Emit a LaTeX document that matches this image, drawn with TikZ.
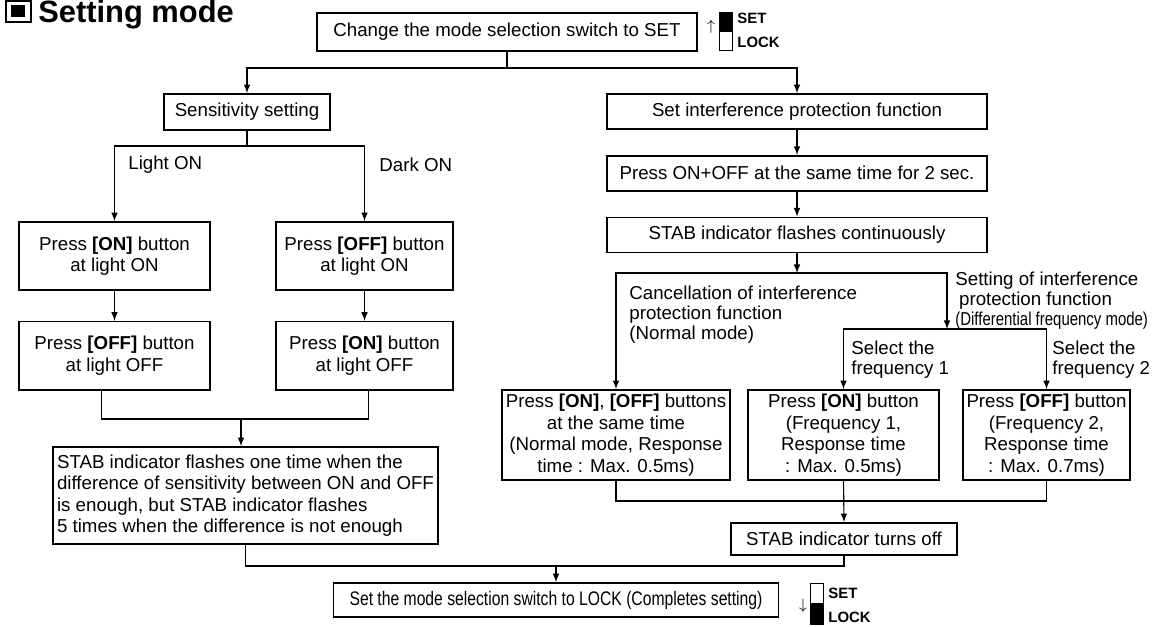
\documentclass[tikz,border=0pt]{standalone}
\usepackage{fontspec}
\setmainfont{Liberation Sans}
\newfontfamily\narrowsf[FakeStretch=0.8]{Liberation Sans}
\usetikzlibrary{arrows, positioning, calc}

\tikzset{
	box/.style={draw, line width=0.9pt, align=center, inner sep=0pt, font=\fontsize{10}{11.5}\selectfont},
	conn/.style={line width=0.6pt},
	arr/.style={conn, -latex},
	lbl/.style={inner sep=0pt, align=left, font=\fontsize{10}{10.5}\selectfont},
	swlbl/.style={inner sep=0pt, anchor=west, font=\fontsize{8}{8}\selectfont\bfseries},
}

\begin{document}
\begin{tikzpicture}[x=0.5348pt, y=-0.5348pt]
	\useasboundingbox (0,0) rectangle (1166,626);

	% title
	\draw[line width=0.6pt] (6,1) rectangle (31,22);
	\fill (11,5) rectangle (25,17);
	\node[anchor=base west, inner sep=0pt, font=\fontsize{16.5}{18}\selectfont\bfseries] (title) at (38,22) {Setting mode};

	% top box and switch
	\node[box, minimum width=203.2pt, minimum height=20.3pt] (top) at (507,32) {Change the mode selection switch to SET};
	\node[inner sep=0pt, font=\fontsize{8}{8}\selectfont] (up) at (711,27) {$\uparrow$};
	\filldraw[line width=0.5pt] (719,12) rectangle (732,31);
	\draw[line width=0.5pt] (719,31) rectangle (732,50);
	\node[swlbl] (set1) at (737,18) {SET};
	\node[swlbl] (lock1) at (737,42) {LOCK};
	\coordinate (j0) at (507,68);

	% sensitivity branch
	\node[box, minimum width=88.8pt, minimum height=19.3pt] (sens) at (247,112) {Sensitivity setting};
	\coordinate (j1) at (247,146);
	\node[inner sep=0pt, anchor=west] (lighton) at (128,165) {Light ON};
	\node[inner sep=0pt, anchor=west] (darkon) at (379,165) {Dark ON};
	\node[box, minimum width=102.1pt, minimum height=36.4pt] (lon1) at (114.5,256) {Press \textbf{[ON]} button\\at light ON};
	\node[box, minimum width=102.1pt, minimum height=36.4pt, below=16pt of lon1] (lon2) {Press \textbf{[OFF]} button\\at light OFF};
	\node[box, minimum width=94.7pt, minimum height=36.4pt] (don1) at (364.5,256) {Press \textbf{[OFF]} button\\at light ON};
	\node[box, minimum width=94.7pt, minimum height=36.4pt, below=16pt of don1] (don2) {Press \textbf{[ON]} button\\at light OFF};
	\coordinate (j2) at (241,419);
	\node[box, align=left, minimum width=205.9pt, minimum height=51.9pt] (stab1) at (245.5,495.5) {STAB indicator flashes one time when the\\difference of sensitivity between ON and OFF\\is enough, but STAB indicator flashes\\5 times when the difference is not enough};

	% interference branch
	\node[box, minimum width=203.2pt, minimum height=18.7pt] (irp) at (797,111.5) {Set interference protection function};
	\node[box, minimum width=203.2pt, minimum height=18.7pt, below=13.4pt of irp] (press2) {Press ON+OFF at the same time for 2 sec.};
	\node[box, minimum width=203.2pt, minimum height=18.7pt, below=13.4pt of press2] (flash) {STAB indicator flashes continuously};
	\coordinate (j4) at (797,273);
	\coordinate (j5) at (947,329);
	\node[lbl, anchor=north west] (cancel) at (629,286) {Cancellation of interference\\protection function\\(Normal mode)};
	\node[lbl, anchor=north west] (diff) at (955,272) {Setting of interference\\\hspace{2pt}protection function\\{\narrowsf (Differential frequency mode)}};
	\node[lbl, anchor=north west] (sel1) at (851,341) {Select the\\frequency 1};
	\node[lbl, anchor=north west] (sel2) at (1052,341) {Select the\\frequency 2};
	\node[box, minimum width=121.9pt, minimum height=48.1pt] (pa) at (616,435) {Press \textbf{[ON]}, \textbf{[OFF]} buttons\\at the same time\\(Normal mode, Response\\time : Max. 0.5ms)};
	\node[box, minimum width=102.1pt, minimum height=48.1pt] (pb) at (843.5,435) {Press \textbf{[ON]} button\\(Frequency 1,\\Response time\\: Max. 0.5ms)};
	\node[box, minimum width=89.3pt, minimum height=48.1pt] (pc) at (1046.5,435) {Press \textbf{[OFF]} button\\(Frequency 2,\\Response time\\: Max. 0.7ms)};
	\coordinate (j6) at (843.5,501);
	\node[box, minimum width=120.9pt, minimum height=17.1pt] (stoff) at (844,539) {STAB indicator turns off};

	% final step and switch
	\coordinate (j3) at (556,566);
	\node[box, minimum width=238pt, minimum height=18.2pt, font=\narrowsf\fontsize{10.5}{12}\selectfont] (lock) at (556,600) {Set the mode selection switch to LOCK (Completes setting)};
	\node[inner sep=0pt, font=\fontsize{8}{8}\selectfont] (down) at (803,606) {$\downarrow$};
	\draw[line width=0.5pt] (810,583) rectangle (823,603);
	\filldraw[line width=0.5pt] (810,603) rectangle (823,624);
	\node[swlbl] (set2) at (828,593) {SET};
	\node[swlbl] (lock2) at (828,617) {LOCK};

	% connectors
	\draw[conn] (top.south) -- (j0);
	\draw[arr] (j0) -| (sens.north);
	\draw[arr] (j0) -| (irp.north);
	\draw[conn] (sens.south) -- (j1);
	\draw[arr] (j1) -| (lon1.north);
	\draw[arr] (j1) -| (don1.north);
	\draw[arr] (lon1) -- (lon2);
	\draw[arr] (don1) -- (don2);
	\draw[conn] ([xshift=-7pt]lon2.south) |- (j2) -| ([xshift=2pt]don2.south);
	\draw[arr] (j2) -- (j2 |- stab1.north);
	\draw[conn] (stab1.south) |- (j3) -| (stoff.south);
	\draw[arr] (j3) -- (lock.north);
	\draw[arr] (irp) -- (press2);
	\draw[arr] (press2) -- (flash);
	\draw[arr] (flash.south) -- (j4);
	\draw[arr] (j4) -| (pa.north);
	\draw[arr] (j4) -| (j5);
	\draw[arr] (j5) -| (pb.north);
	\draw[arr] (j5) -| (pc.north);
	\draw[conn] (pa.south) |- (j6) -| (pc.south);
	\draw[arr] (pb.south) -- (stoff.north);
\end{tikzpicture}
\end{document}
